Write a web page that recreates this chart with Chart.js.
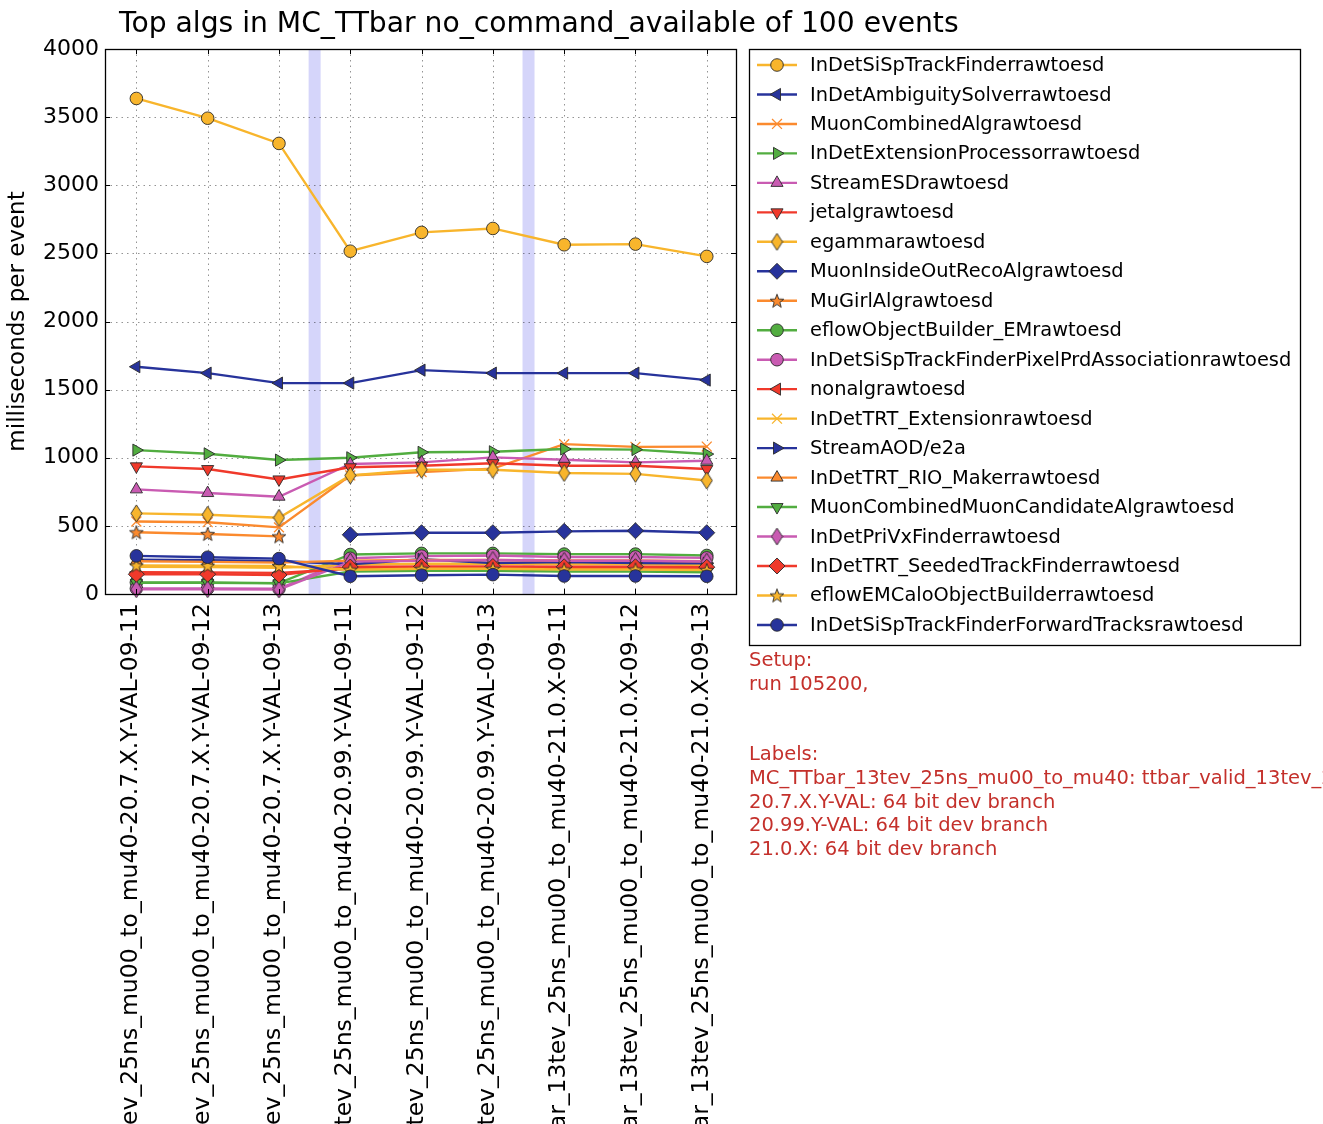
<!DOCTYPE html>
<html>
<head>
<meta charset="utf-8">
<script src="https://cdn.jsdelivr.net/npm/chart.js@4/dist/chart.umd.min.js"></script>
<style>
  html, body { margin: 0; padding: 0; background: #fff; }
  #wrap { width: 1323px; height: 1124px; position: relative; overflow: hidden; }
</style>
</head>
<body>
<div id="wrap"><canvas id="c" width="1323" height="1124"></canvas></div>
<script>
// ---- data -------------------------------------------------------------
const runLabels = [
  'MC_TTbar_13tev_25ns_mu00_to_mu40-20.7.X.Y-VAL-09-11',
  'MC_TTbar_13tev_25ns_mu00_to_mu40-20.7.X.Y-VAL-09-12',
  'MC_TTbar_13tev_25ns_mu00_to_mu40-20.7.X.Y-VAL-09-13',
  'MC_TTbar_13tev_25ns_mu00_to_mu40-20.99.Y-VAL-09-11',
  'MC_TTbar_13tev_25ns_mu00_to_mu40-20.99.Y-VAL-09-12',
  'MC_TTbar_13tev_25ns_mu00_to_mu40-20.99.Y-VAL-09-13',
  'MC_TTbar_13tev_25ns_mu00_to_mu40-21.0.X-09-11',
  'MC_TTbar_13tev_25ns_mu00_to_mu40-21.0.X-09-12',
  'MC_TTbar_13tev_25ns_mu00_to_mu40-21.0.X-09-13'
];

// release boundaries (between run groups)
const releaseBreaks = [2.5, 5.5];

const yTicks = [0, 500, 1000, 1500, 2000, 2500, 3000, 3500, 4000];

const seriesNames = [
  'InDetSiSpTrackFinderrawtoesd',
  'InDetAmbiguitySolverrawtoesd',
  'MuonCombinedAlgrawtoesd',
  'InDetExtensionProcessorrawtoesd',
  'StreamESDrawtoesd',
  'jetalgrawtoesd',
  'egammarawtoesd',
  'MuonInsideOutRecoAlgrawtoesd',
  'MuGirlAlgrawtoesd',
  'eflowObjectBuilder_EMrawtoesd',
  'InDetSiSpTrackFinderPixelPrdAssociationrawtoesd',
  'nonalgrawtoesd',
  'InDetTRT_Extensionrawtoesd',
  'StreamAOD/e2a',
  'InDetTRT_RIO_Makerrawtoesd',
  'MuonCombinedMuonCandidateAlgrawtoesd',
  'InDetPriVxFinderrawtoesd',
  'InDetTRT_SeededTrackFinderrawtoesd',
  'eflowEMCaloObjectBuilderrawtoesd',
  'InDetSiSpTrackFinderForwardTracksrawtoesd'
];

const inDetSiSpTrackFinder      = [3637, 3492, 3307, 2516, 2654, 2683, 2563, 2568, 2478];
const inDetAmbiguitySolver      = [1668, 1621, 1548, 1548, 1643, 1621, 1621, 1621, 1570];
const muonCombinedAlg           = [532, 527, 489, 870, 895, 920, 1100, 1080, 1082];
const inDetExtensionProcessor   = [1056, 1029, 983, 1000, 1040, 1044, 1064, 1060, 1027];
const streamESD                 = [768, 741, 714, 954, 966, 1003, 985, 966, 978];
const jetalg                    = [937, 917, 841, 930, 941, 960, 941, 941, 917];
const egamma                    = [592, 582, 560, 870, 912, 912, 888, 882, 833];
const muonInsideOutRecoAlg      = [null, null, null, 435, 450, 450, 460, 464, 450];
const muGirlAlg                 = [453, 440, 423, null, null, null, null, null, null];
const eflowObjectBuilderEM      = [85, 85, 80, 290, 298, 298, 293, 293, 283];
const pixelPrdAssociation       = [40, 40, 38, 262, 278, 283, 272, 272, 265];
const nonalg                    = [160, 158, 155, 185, 190, 192, 188, 188, 185];
const inDetTRTExtension         = [200, 198, 192, 215, 222, 222, 218, 218, 212];
const streamAOD                 = [252, 248, 242, 218, 255, 228, 235, 228, 226];
const inDetTRTRIOMaker          = [240, 236, 230, 245, 250, 250, 246, 246, 240];
const muonCandidateAlg          = [82, 82, 78, 165, 170, 170, 165, 165, 160];
const inDetPriVxFinder          = [35, 35, 33, 238, 244, 250, 244, 244, 238];
const inDetTRTSeededTrackFinder = [145, 145, 140, 198, 202, 202, 200, 200, 197];
const eflowEMCaloObjectBuilder  = [210, 208, 205, 178, 185, 185, 180, 180, 176];
const forwardTracks             = [280, 270, 260, 130, 138, 142, 132, 132, 130];

const seriesValues = [
  inDetSiSpTrackFinder, inDetAmbiguitySolver, muonCombinedAlg, inDetExtensionProcessor,
  streamESD, jetalg, egamma, muonInsideOutRecoAlg, muGirlAlg, eflowObjectBuilderEM,
  pixelPrdAssociation, nonalg, inDetTRTExtension, streamAOD, inDetTRTRIOMaker,
  muonCandidateAlg, inDetPriVxFinder, inDetTRTSeededTrackFinder, eflowEMCaloObjectBuilder,
  forwardTracks
];

const setupText = [
  'Setup:',
  'run 105200,',
  '',
  '',
  'Labels:',
  'MC_TTbar_13tev_25ns_mu00_to_mu40: ttbar_valid_13tev_25ns_mu00_to_mu40',
  '20.7.X.Y-VAL: 64 bit dev branch',
  '20.99.Y-VAL: 64 bit dev branch',
  '21.0.X: 64 bit dev branch'
];

// ---- styling ----------------------------------------------------------
const FONT = "'DejaVu Sans', 'Liberation Sans', sans-serif";
const palette = ['#f8b52c', '#27339b', '#fb8a2e', '#52ad40', '#c95bb2', '#f0392b'];
const markerCycle = ['circle', 'triL', 'cross', 'triR', 'triU', 'triD', 'thinDiamond',
                     'diamond', 'star', 'circle'];
const EDGE = '#2a2a2a';

function thinDiamondImage(fill) {
  const c = document.createElement('canvas');
  c.width = 13; c.height = 19;
  const g = c.getContext('2d');
  g.beginPath();
  g.moveTo(6.5, 1); g.lineTo(12, 9.5); g.lineTo(6.5, 18); g.lineTo(1, 9.5); g.closePath();
  g.fillStyle = fill; g.fill();
  g.lineWidth = 0.9; g.strokeStyle = EDGE; g.stroke();
  return c;
}

function starImage(fill) {
  const c = document.createElement('canvas');
  c.width = 16; c.height = 16;
  const g = c.getContext('2d');
  g.beginPath();
  for (let k = 0; k < 10; k++) {
    const r = k % 2 === 0 ? 7.2 : 3.0;
    const a = -Math.PI / 2 + k * Math.PI / 5;
    const px = 8 + r * Math.cos(a), py = 8.6 + r * Math.sin(a);
    if (k === 0) g.moveTo(px, py); else g.lineTo(px, py);
  }
  g.closePath();
  g.fillStyle = fill; g.fill();
  g.lineWidth = 0.9; g.strokeStyle = EDGE; g.stroke();
  return c;
}

function markerStyle(kind, color) {
  switch (kind) {
    case 'circle':      return { style: 'circle',   rot: 0,   r: 6.3, edge: EDGE,  bw: 0.9 };
    case 'triL':        return { style: 'triangle', rot: -90, r: 7,   edge: EDGE,  bw: 0.9 };
    case 'triR':        return { style: 'triangle', rot: 90,  r: 7,   edge: EDGE,  bw: 0.9 };
    case 'triU':        return { style: 'triangle', rot: 0,   r: 7,   edge: EDGE,  bw: 0.9 };
    case 'triD':        return { style: 'triangle', rot: 180, r: 7,   edge: EDGE,  bw: 0.9 };
    case 'cross':       return { style: 'crossRot', rot: 0,   r: 7,   edge: color, bw: 1.3 };
    case 'diamond':     return { style: 'rectRot',  rot: 0,   r: 8,   edge: EDGE,  bw: 0.9 };
    case 'thinDiamond': return { style: thinDiamondImage(color), rot: 0, r: 8, edge: EDGE, bw: 0 };
    case 'star':        return { style: starImage(color), rot: 0, r: 8, edge: EDGE, bw: 0 };
  }
}

const datasets = seriesNames.map((name, i) => {
  const color = palette[i % palette.length];
  const m = markerStyle(markerCycle[i % markerCycle.length], color);
  return {
    label: name,
    data: seriesValues[i].map((v, k) => ({ x: k, y: v })),
    borderColor: color,
    backgroundColor: color,
    borderWidth: 2.4,
    pointStyle: m.style,
    pointRotation: m.rot,
    pointRadius: m.r,
    pointHoverRadius: m.r,
    pointBackgroundColor: color,
    pointBorderColor: m.edge,
    pointBorderWidth: m.bw,
    tension: 0,
    spanGaps: false,
    clip: false,
    order: seriesNames.length - i   // later series drawn on top
  };
});

// ---- decorations: bands, dotted grid, frame, legend, texts ------------
function drawLegendMarker(ctx, ds, x, y) {
  const style = ds.pointStyle, r = ds.pointRadius, rot = (ds.pointRotation || 0) * Math.PI / 180;
  ctx.save();
  ctx.translate(x, y);
  if (style instanceof HTMLCanvasElement) {
    ctx.drawImage(style, -style.width / 2, -style.height / 2);
    ctx.restore();
    return;
  }
  ctx.rotate(rot);
  ctx.fillStyle = ds.pointBackgroundColor;
  ctx.strokeStyle = ds.pointBorderColor;
  ctx.lineWidth = ds.pointBorderWidth;
  ctx.beginPath();
  if (style === 'circle') {
    ctx.arc(0, 0, r, 0, Math.PI * 2);
    ctx.fill(); ctx.stroke();
  } else if (style === 'triangle') {
    ctx.moveTo(0, -r);
    ctx.lineTo(r * Math.cos(Math.PI / 6), r * Math.sin(Math.PI / 6));
    ctx.lineTo(-r * Math.cos(Math.PI / 6), r * Math.sin(Math.PI / 6));
    ctx.closePath(); ctx.fill(); ctx.stroke();
  } else if (style === 'rectRot') {
    const s = r;
    ctx.moveTo(0, -s); ctx.lineTo(s, 0); ctx.lineTo(0, s); ctx.lineTo(-s, 0);
    ctx.closePath(); ctx.fill(); ctx.stroke();
  } else if (style === 'crossRot') {
    const s = r * Math.SQRT1_2;
    ctx.moveTo(-s, -s); ctx.lineTo(s, s); ctx.moveTo(s, -s); ctx.lineTo(-s, s);
    ctx.stroke();
  }
  ctx.restore();
}

const decor = {
  id: 'decor',
  beforeDatasetsDraw(chart) {
    const { ctx, chartArea: a, scales: { x, y } } = chart;
    ctx.save();
    // shaded release separators
    ctx.fillStyle = '#d5d5fa';
    const bandW = 12;
    releaseBreaks.forEach(b => {
      const px = x.getPixelForValue(b);
      ctx.fillRect(px - bandW / 2, a.top, bandW, a.bottom - a.top);
    });
    // dotted grid
    ctx.strokeStyle = 'rgba(0,0,0,0.42)';
    ctx.lineWidth = 1;
    ctx.setLineDash([1.5, 4]);
    x.ticks.forEach(t => {
      const px = Math.round(x.getPixelForValue(t.value)) + 0.5;
      ctx.beginPath(); ctx.moveTo(px, a.top); ctx.lineTo(px, a.bottom); ctx.stroke();
    });
    yTicks.forEach(v => {
      const py = Math.round(y.getPixelForValue(v)) + 0.5;
      ctx.beginPath(); ctx.moveTo(a.left, py); ctx.lineTo(a.right, py); ctx.stroke();
    });
    ctx.restore();
  },
  afterDatasetsDraw(chart) {
    const { ctx, chartArea: a, scales: { x, y } } = chart;
    ctx.save();
    ctx.strokeStyle = '#000';
    ctx.lineWidth = 1;
    // inward tick marks on all four sides
    const tl = 5;
    x.ticks.forEach(t => {
      const px = Math.round(x.getPixelForValue(t.value)) + 0.5;
      ctx.beginPath();
      ctx.moveTo(px, a.bottom); ctx.lineTo(px, a.bottom - tl);
      ctx.moveTo(px, a.top); ctx.lineTo(px, a.top + tl);
      ctx.stroke();
    });
    yTicks.forEach(v => {
      const py = Math.round(y.getPixelForValue(v)) + 0.5;
      ctx.beginPath();
      ctx.moveTo(a.left, py); ctx.lineTo(a.left + tl, py);
      ctx.moveTo(a.right, py); ctx.lineTo(a.right - tl, py);
      ctx.stroke();
    });
    // axes frame
    ctx.lineWidth = 1.3;
    ctx.strokeRect(Math.round(a.left) + 0.5, Math.round(a.top) + 0.5,
                   Math.round(a.right - a.left), Math.round(a.bottom - a.top));
    ctx.restore();
  },
  afterDraw(chart) {
    const { ctx } = chart;
    ctx.save();
    // title
    ctx.fillStyle = '#000';
    ctx.font = `28.2px ${FONT}`;
    ctx.textAlign = 'left';
    ctx.textBaseline = 'alphabetic';
    ctx.fillText('Top algs in MC_TTbar no_command_available of 100 events', 119, 32);

    // legend box
    const lx = 749, ly = 49, lw = 551, lh = 596;
    ctx.fillStyle = '#fff';
    ctx.fillRect(lx, ly, lw, lh);
    ctx.strokeStyle = '#000';
    ctx.lineWidth = 1.3;
    ctx.strokeRect(lx + 0.5, ly + 0.5, lw, lh);
    const rowH = 29.47;
    ctx.font = `19.4px ${FONT}`;
    ctx.textBaseline = 'middle';
    chart.data.datasets.forEach((ds, i) => {
      const cy = 65 + i * rowH;
      ctx.strokeStyle = ds.borderColor;
      ctx.lineWidth = 2.4;
      ctx.beginPath(); ctx.moveTo(757, cy); ctx.lineTo(797, cy); ctx.stroke();
      drawLegendMarker(ctx, ds, 777, cy);
      ctx.fillStyle = '#000';
      ctx.fillText(ds.label, 810, cy + 1);
    });

    // setup / labels notes
    ctx.fillStyle = '#c4302b';
    ctx.font = `19.5px ${FONT}`;
    ctx.textBaseline = 'middle';
    setupText.forEach((line, i) => {
      if (line) ctx.fillText(line, 749, 661 + i * 23.6);
    });
    ctx.restore();
  }
};

// ---- chart ------------------------------------------------------------
new Chart(document.getElementById('c'), {
  type: 'line',
  data: { datasets },
  plugins: [decor],
  options: {
    responsive: false,
    animation: false,
    devicePixelRatio: 1,
    events: [],
    layout: { padding: { top: 49, right: 587, bottom: 0, left: 0 } },
    plugins: { legend: { display: false }, title: { display: false }, tooltip: { enabled: false } },
    scales: {
      x: {
        type: 'linear',
        min: -0.44,
        max: 8.41,
        afterBuildTicks: s => { s.ticks = runLabels.map((_, i) => ({ value: i })); },
        afterFit: s => { s.height = 530; },
        grid: { display: false, drawTicks: false },
        border: { display: false },
        ticks: {
          autoSkip: false,
          minRotation: 90,
          maxRotation: 90,
          padding: 9,
          labelOffset: -5,
          color: '#000',
          font: { family: FONT, size: 23.5 },
          callback: v => runLabels[v]
        }
      },
      y: {
        min: 0,
        max: 4000,
        afterBuildTicks: s => { s.ticks = yTicks.map(v => ({ value: v })); },
        afterFit: s => { s.width = 105; },
        grid: { display: false, drawTicks: false },
        border: { display: false },
        ticks: {
          padding: 6,
          color: '#000',
          font: { family: FONT, size: 22 },
          callback: v => String(v)
        },
        title: {
          display: true,
          text: 'milliseconds per event',
          color: '#000',
          font: { family: FONT, size: 23 },
          padding: { top: 4, bottom: 0 }
        }
      }
    }
  }
});
</script>
</body>
</html>
